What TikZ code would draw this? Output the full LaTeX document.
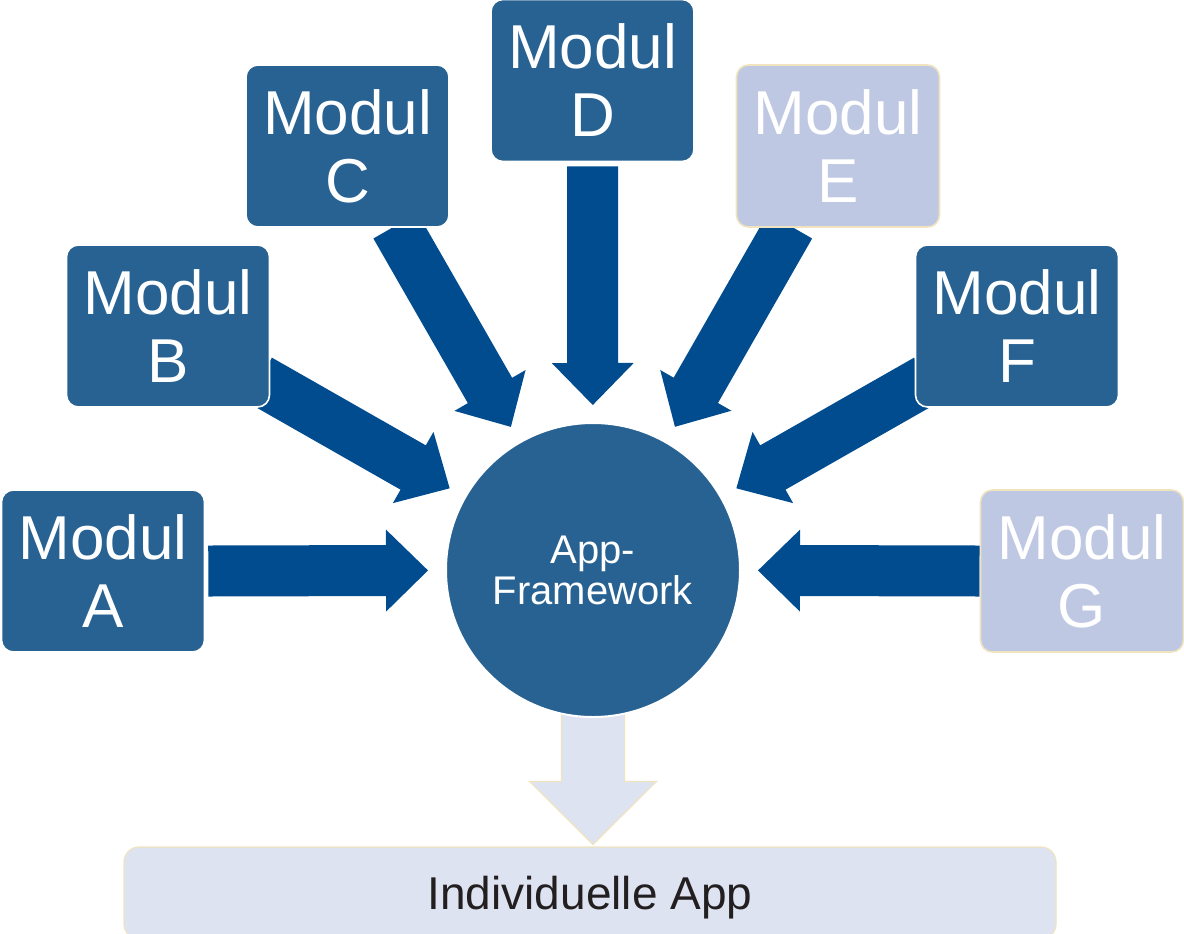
\documentclass[tikz,border=0pt]{standalone}
\usepackage{fontspec}
\setmainfont{Liberation Sans}
\usetikzlibrary{calc,backgrounds}
\definecolor{boxblue}{HTML}{276292}
\definecolor{arrowblue}{HTML}{004C8F}
\definecolor{lightblue}{HTML}{BFC8E3}
\definecolor{paleblue}{HTML}{DDE3F1}
\definecolor{cream}{HTML}{EFE3C0}
\definecolor{ink}{HTML}{231F20}

% block arrow: [style]{start}{tip}{half shaft}{half head}{head length}
\newcommand{\blockarrow}[6][arr]{%
  \coordinate (hb) at ($(#3)!#6!(#2)$);
  \path[#1] ($(#2)!#4!90:(#3)$) -- ($(hb)!#4!90:(#3)$) -- ($(hb)!#5!90:(#3)$) -- (#3)
    -- ($(hb)!#5!-90:(#3)$) -- ($(hb)!#4!-90:(#3)$) -- ($(#2)!#4!-90:(#3)$) -- cycle;}

\begin{document}
\begin{tikzpicture}[x=0.5pt, y=-0.5pt,
  modul/.style = {rectangle, rounded corners=6pt, fill=boxblue, draw=white, line width=0.8pt,
    minimum width=101.5pt, minimum height=81pt, inner sep=0pt, align=center, text=white,
    font=\fontsize{31}{34}\selectfont},
  light/.style = {modul, fill=lightblue, draw=cream},
  arr/.style = {fill=arrowblue},
  outarr/.style = {fill=paleblue, draw=cream, line width=0.6pt}]
  \useasboundingbox (0,0) rectangle (1184,933);

  \node[circle, fill=boxblue, draw=white, line width=1pt, minimum size=147pt, inner sep=0pt,
    align=center, text=white, font=\fontsize{20}{20.5}\selectfont] (fw) at (593,570) {App-\\Framework};

  \node[modul] (mA) at (103,571) {Modul\\A};
  \node[modul] (mB) at (168,326) {Modul\\B};
  \node[modul] (mC) at (347.5,146) {Modul\\C};
  \node[modul] (mD) at (592.5,80.5) {Modul\\D};
  \node[light] (mE) at (838,146) {Modul\\E};
  \node[modul] (mF) at (1017,326) {Modul\\F};
  \node[light] (mG) at (1082,571) {Modul\\G};

  \node[rectangle, rounded corners=7.5pt, fill=paleblue, draw=cream, line width=0.6pt,
    minimum width=466pt, minimum height=46pt, text depth=0pt, text=ink,
    font=\fontsize{23}{26}\selectfont] (app) at (590,893) {Individuelle App};

  % start points of the arrows
  \coordinate (sA) at ($(mA.east)+(3,0)$);
  \coordinate (sB) at ($(mB.south east)+(-11,-28)$);
  \coordinate (sC) at ($(mC.south)+(48,-2)$);
  \coordinate (sD) at ($(mD.south)+(0,4)$);
  \coordinate (sE) at ($(mE.south)+(-48,-2)$);
  \coordinate (sF) at ($(mF.south west)+(12,-28)$);
  \coordinate (sG) at (mG.west);

  \begin{pgfonlayer}{background}
    \foreach \m in {A,B,C,D,E,F,G} {
      \coordinate (t\m) at ($(fw.center)!82.5pt!(s\m)$);
      \blockarrow{s\m}{t\m}{12.75pt}{20.5pt}{21pt}
    }
    \coordinate (tApp) at ($(fw.south |- app.north)+(0,-2)$);
    \blockarrow[outarr]{fw.center}{tApp}{15.75pt}{31.75pt}{31.5pt}
  \end{pgfonlayer}
\end{tikzpicture}
\end{document}
